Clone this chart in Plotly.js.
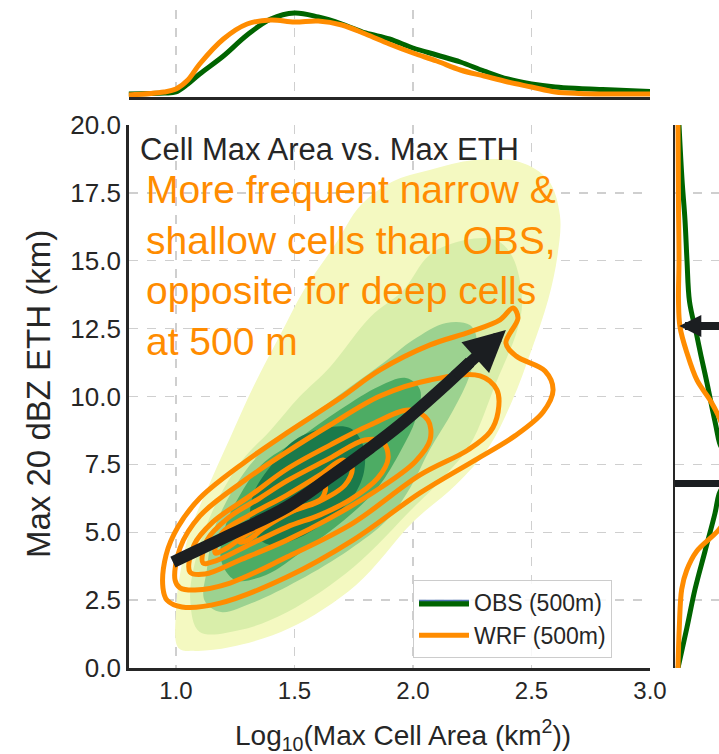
<!DOCTYPE html>
<html><head><meta charset="utf-8">
<script src="https://cdn.plot.ly/plotly-3.0.1.min.js"></script>
<style>html,body{margin:0;padding:0;background:#fff;overflow:hidden}</style>
</head><body><div id="chart" style="width:719px;height:754px"></div>
<script>
// ---------- Axis ticks ----------
const X_TICKS = [1.0, 1.5, 2.0, 2.5, 3.0];
const X_TICK_TEXT = ['1.0', '1.5', '2.0', '2.5', '3.0'];
const Y_TICKS = [0, 2.5, 5, 7.5, 10, 12.5, 15, 17.5, 20];
const Y_TICK_TEXT = ['0.0', '2.5', '5.0', '7.5', '10.0', '12.5', '15.0', '17.5', '20.0'];

// ---------- Top marginal (density of log10 area) ----------
const TOP_X   = [0.8, 0.95, 1.0, 1.05, 1.1, 1.2, 1.3, 1.4, 1.5, 1.6, 1.7, 1.8, 1.9, 2.0, 2.1, 2.2, 2.3, 2.4, 2.5, 2.6, 2.7, 2.8, 2.9, 3.0];
const TOP_OBS = [3, 4, 5, 13, 23, 41, 62, 78, 84, 80, 73, 64, 58, 49, 42, 35, 26, 18, 13, 10, 8.5, 7.5, 6.5, 5.5];
const TOP_WRF = [2, 5, 8, 17, 33, 58, 73, 77, 75, 76, 72, 63, 53, 44, 36, 27, 21, 15, 10, 5, 3.5, 3, 3, 3];

// ---------- Right marginal (density of ETH) ----------
const RIGHT_Y_OBS = [0, 1.5, 2.9, 4.3, 5.7, 6.4, 7.3, 8.3, 8.9, 9.5, 10.5, 11.5, 12.3, 13.5, 15, 16.5, 18, 20];
const RIGHT_OBS   = [3, 12, 20, 30, 40, 44, 55, 44.5, 41, 37.5, 32, 26, 21.5, 14.5, 12, 10, 7, 4];
const RIGHT_Y_WRF = [0, 1.5, 2.9, 3.6, 4.3, 5.1, 5.8, 6.8, 8.0, 9.24, 9.87, 10.6, 11.6, 12.56, 13.55, 15, 17, 20];
const RIGHT_WRF   = [3, 4.3, 6.7, 11.7, 21.7, 44, 55, 60, 55, 44, 35, 22, 12, 5, 3.5, 4, 3.5, 3];

// ---------- OBS filled KDE levels (outer -> inner) ----------
const OBS_L1_X = [1.01, 1.0, 1.02, 1.06, 1.13, 1.23, 1.33, 1.44, 1.54, 1.67, 1.78, 1.91, 2.07, 2.26, 2.45, 2.57, 2.62, 2.61, 2.57, 2.50, 2.42, 2.32, 2.18, 2.0, 1.76, 1.48, 1.23, 1.08];
const OBS_L1_Y = [0.74, 2.14, 3.61, 5.08, 6.56, 8.51, 10.42, 12.27, 13.92, 15.58, 17.05, 17.9, 18.34, 18.71, 18.64, 17.97, 16.68, 15.21, 13.55, 11.71, 9.87, 8.14, 6.74, 5.38, 3.06, 1.47, 0.77, 0.63];
const OBS_L2_X = [1.10, 1.06, 1.09, 1.17, 1.28, 1.40, 1.52, 1.65, 1.82, 1.96, 2.07, 2.22, 2.35, 2.42, 2.46, 2.44, 2.35, 2.24, 2.11, 2.0, 1.75, 1.47, 1.27];
const OBS_L2_Y = [1.33, 2.5, 4.24, 6.08, 7.66, 8.77, 9.98, 11.09, 12.93, 13.92, 15.21, 15.76, 15.76, 15.14, 13.55, 12.45, 10.5, 8.21, 6.85, 5.89, 3.72, 2.06, 1.40];
const OBS_L3_X = [1.12, 1.13, 1.16, 1.24, 1.35, 1.52, 1.69, 1.88, 2.0, 2.14, 2.24, 2.27, 2.24, 2.17, 2.07, 1.99, 1.89, 1.73, 1.52, 1.32, 1.19];
const OBS_L3_Y = [2.50, 3.61, 5.08, 6.56, 7.85, 8.95, 10.06, 11.27, 12.08, 12.71, 12.63, 12.08, 10.79, 9.50, 8.03, 6.67, 5.45, 4.35, 3.24, 2.39, 2.06];
const OBS_L4_X = [1.19, 1.21, 1.27, 1.36, 1.51, 1.69, 1.86, 1.97, 2.03, 2.01, 1.95, 1.85, 1.71, 1.54, 1.38, 1.25];
const OBS_L4_Y = [3.98, 5.27, 6.37, 7.48, 8.40, 9.50, 10.39, 10.68, 10.24, 9.13, 8.03, 6.63, 5.45, 4.35, 3.43, 3.24];
const OBS_L5_X = [1.321, 1.325, 1.41, 1.502, 1.629, 1.734, 1.789, 1.793, 1.743, 1.650, 1.523, 1.397];
const OBS_L5_Y = [5.08, 6.37, 7.55, 8.40, 8.84, 8.84, 8.21, 7.22, 6.26, 5.52, 4.82, 4.53];
const OBS_COLORS = ['#f4f9c1', '#d9eeaa', '#9cd290', '#4dac64', '#1b7a4b'];

// ---------- WRF KDE contour lines (outer -> inner) ----------
const WRF_C1_X = [0.945, 0.958, 1.008, 1.101, 1.291, 1.468, 1.692, 1.861, 2.072, 2.241, 2.367, 2.422, 2.443, 2.392, 2.435, 2.557, 2.591, 2.549, 2.430, 2.262, 2.030, 1.747, 1.468, 1.186, 1.025, 0.962];
const WRF_C1_Y = [2.95, 4.16, 5.19, 6.26, 7.59, 8.66, 9.94, 10.98, 11.90, 12.38, 12.82, 13.26, 12.89, 11.97, 11.49, 10.94, 10.24, 9.43, 8.55, 7.66, 6.45, 4.71, 3.35, 2.39, 2.25, 2.50];
const WRF_C2_X = [0.996, 1.017, 1.101, 1.291, 1.468, 1.650, 1.861, 2.072, 2.283, 2.354, 2.359, 2.325, 2.232, 2.030, 1.747, 1.468, 1.228, 1.080, 1.017];
const WRF_C2_Y = [3.24, 4.42, 5.60, 6.92, 7.96, 8.95, 10.02, 10.61, 10.76, 10.24, 9.43, 8.69, 8.03, 7.11, 5.34, 4.09, 3.13, 2.87, 2.95];
const WRF_C3_X = [1.059, 1.076, 1.156, 1.312, 1.468, 1.650, 1.819, 1.987, 2.063, 2.072, 2.008, 1.861, 1.650, 1.468, 1.270, 1.122];
const WRF_C3_Y = [3.54, 4.53, 5.38, 6.34, 7.33, 8.21, 8.95, 9.50, 9.13, 8.40, 7.59, 6.63, 5.52, 4.71, 3.98, 3.46];
const WRF_C4_X = [1.114, 1.131, 1.219, 1.354, 1.468, 1.650, 1.797, 1.873, 1.895, 1.852, 1.734, 1.608, 1.468, 1.291, 1.165];
const WRF_C4_Y = [3.87, 4.71, 5.52, 6.26, 6.89, 7.73, 8.40, 8.32, 7.73, 7.00, 6.19, 5.64, 5.19, 4.46, 3.94];
const WRF_C5_X = [1.165, 1.194, 1.312, 1.468, 1.608, 1.705, 1.743, 1.713, 1.599, 1.468, 1.312, 1.207];
const WRF_C5_Y = [4.24, 4.97, 5.64, 6.37, 7.11, 7.66, 7.37, 6.74, 6.11, 5.71, 5.01, 4.38];
const WRF_C6_X = [1.270, 1.312, 1.439, 1.565, 1.629, 1.616, 1.502, 1.376, 1.304];
const WRF_C6_Y = [4.64, 5.16, 5.82, 6.45, 6.70, 6.26, 5.82, 5.19, 4.71];

// ---------- Trend arrow (main panel) ----------
const ARROW_X = [0.987, 1.228, 1.468, 1.650, 1.819, 1.945, 2.114, 2.241];
const ARROW_Y = [3.90, 4.90, 5.93, 7.03, 8.10, 8.95, 10.24, 11.27];
const ARROW_TIP = [2.392, 12.45];
const ARROW_HEAD_FROM = [2.17, 10.7];

// ---------- Right-panel markers ----------
const RIGHT_ARROW_Y = 12.6;
const RIGHT_BAR_Y = 6.8;

const ORANGE = '#ff8c00';
const GREEN = '#006400';
const BLACK = '#1b1e21';
const FONT = 'Liberation Sans, Arial, Helvetica, sans-serif';

function close(a) { return a.concat([a[0]]); }

const traces = [];
// Legend entry for OBS
traces.push({x: [null], y: [null], type: 'scatter', mode: 'lines', fill: 'toself',
  fillcolor: GREEN, line: {color: '#4c72b0', width: 1.5}, name: 'OBS (500m)', showlegend: true, hoverinfo: 'skip'});

const obsLevels = [[OBS_L1_X, OBS_L1_Y], [OBS_L2_X, OBS_L2_Y], [OBS_L3_X, OBS_L3_Y], [OBS_L4_X, OBS_L4_Y], [OBS_L5_X, OBS_L5_Y]];
obsLevels.forEach((lv, i) => {
  traces.push({x: close(lv[0]), y: close(lv[1]), type: 'scatter', mode: 'lines', fill: 'toself',
    fillcolor: OBS_COLORS[i], line: {width: 0, shape: 'spline', smoothing: 1}, showlegend: false, hoverinfo: 'skip',
    xaxis: 'x', yaxis: 'y'});
});

const wrfLevels = [[WRF_C1_X, WRF_C1_Y], [WRF_C2_X, WRF_C2_Y], [WRF_C3_X, WRF_C3_Y], [WRF_C4_X, WRF_C4_Y], [WRF_C5_X, WRF_C5_Y], [WRF_C6_X, WRF_C6_Y]];
wrfLevels.forEach((lv, i) => {
  traces.push({x: close(lv[0]), y: close(lv[1]), type: 'scatter', mode: 'lines',
    line: {color: ORANGE, width: 5, shape: 'spline', smoothing: 1}, name: 'WRF (500m)',
    showlegend: i === 0, legendgroup: 'wrf', hoverinfo: 'skip', xaxis: 'x', yaxis: 'y'});
});

// Arrow shaft
traces.push({x: ARROW_X, y: ARROW_Y, type: 'scatter', mode: 'lines',
  line: {color: BLACK, width: 12, shape: 'spline'}, showlegend: false, hoverinfo: 'skip'});

// Top marginal
traces.push({x: TOP_X, y: TOP_OBS, type: 'scatter', mode: 'lines', xaxis: 'x2', yaxis: 'y2',
  line: {color: GREEN, width: 5, shape: 'spline'}, showlegend: false, hoverinfo: 'skip'});
traces.push({x: TOP_X, y: TOP_WRF, type: 'scatter', mode: 'lines', xaxis: 'x2', yaxis: 'y2',
  line: {color: ORANGE, width: 5, shape: 'spline'}, showlegend: false, hoverinfo: 'skip'});

// Right marginal
traces.push({x: RIGHT_OBS, y: RIGHT_Y_OBS, type: 'scatter', mode: 'lines', xaxis: 'x3', yaxis: 'y3',
  line: {color: GREEN, width: 5, shape: 'spline'}, showlegend: false, hoverinfo: 'skip'});
traces.push({x: RIGHT_WRF, y: RIGHT_Y_WRF, type: 'scatter', mode: 'lines', xaxis: 'x3', yaxis: 'y3',
  line: {color: ORANGE, width: 5, shape: 'spline'}, showlegend: false, hoverinfo: 'skip'});

const W = 719, H = 754;
const px = v => v / W;
const py = v => 1 - v / H;

const grid = {showgrid: true, gridcolor: '#cfcfcf', griddash: 'dash', gridwidth: 1.3, zeroline: false};

const layout = {
  width: W, height: H,
  margin: {l: 0, r: 0, t: 0, b: 0},
  paper_bgcolor: '#ffffff', plot_bgcolor: '#ffffff',
  font: {family: FONT, color: '#262626'},
  showlegend: true,
  xaxis: Object.assign({domain: [px(128.6), px(650)], range: [0.8, 3.0], anchor: 'y',
    tickvals: X_TICKS, ticktext: X_TICK_TEXT, tickfont: {size: 24, color: '#262626'},
    showline: true, linecolor: '#262626', linewidth: 2.5, ticks: ''}, grid),
  yaxis: Object.assign({domain: [py(668), py(125)], range: [0, 20], anchor: 'x',
    tickvals: Y_TICKS, ticktext: Y_TICK_TEXT, tickfont: {size: 26, color: '#262626'},
    showline: true, linecolor: '#262626', linewidth: 2.5, ticks: ''}, grid),
  xaxis2: Object.assign({domain: [px(128.6), px(650)], range: [0.8, 3.0], anchor: 'y2',
    tickvals: X_TICKS, showticklabels: false, showline: true, linecolor: '#262626', linewidth: 2.5, ticks: ''}, grid),
  yaxis2: {domain: [py(97), py(10)], range: [0, 87], anchor: 'x2', visible: false, showgrid: false, zeroline: false},
  xaxis3: {domain: [px(675), 1], range: [0, 44], anchor: 'y3', visible: false, showgrid: false, zeroline: false},
  yaxis3: Object.assign({domain: [py(668), py(125)], range: [0, 20], anchor: 'x3',
    tickvals: Y_TICKS, showticklabels: false, showline: true, linecolor: '#262626', linewidth: 2.5, ticks: ''}, grid),
  legend: {x: px(413), y: py(580), xanchor: 'left', yanchor: 'top',
    bgcolor: 'rgba(255,255,255,0.85)', bordercolor: '#cccccc', borderwidth: 1,
    font: {size: 23, color: '#262626', family: FONT}, itemwidth: 50, tracegroupgap: 0},
  shapes: [
    {type: 'line', xref: 'x3', yref: 'y3', x0: 0, x1: 80, y0: RIGHT_BAR_Y, y1: RIGHT_BAR_Y,
     line: {color: BLACK, width: 7}}
  ],
  annotations: [
    {xref: 'paper', yref: 'paper', x: px(138), y: py(150), xanchor: 'left', yanchor: 'middle',
     text: 'Cell Max Area vs. Max ETH', showarrow: false, font: {size: 31, color: '#262626', family: FONT}},
    {xref: 'paper', yref: 'paper', x: px(144), y: py(265), xanchor: 'left', yanchor: 'middle', align: 'left',
     text: 'More frequent narrow &<br>shallow cells than OBS,<br>opposite for deep cells<br>at 500 m',
     showarrow: false, font: {size: 39, color: ORANGE, family: FONT}},
    {xref: 'paper', yref: 'paper', x: px(38), y: py(394), xanchor: 'center', yanchor: 'middle', textangle: -90,
     text: 'Max 20 dBZ ETH (km)', showarrow: false, font: {size: 33, color: '#262626', family: FONT}},
    {xref: 'paper', yref: 'paper', x: px(403), y: py(735), xanchor: 'center', yanchor: 'middle',
     text: 'Log<sub>10</sub>(Max Cell Area (km<sup>2</sup>))', showarrow: false, font: {size: 28, color: '#262626', family: FONT}},
    {xref: 'x', yref: 'y', axref: 'x', ayref: 'y', x: ARROW_TIP[0], y: ARROW_TIP[1],
     ax: ARROW_HEAD_FROM[0], ay: ARROW_HEAD_FROM[1], text: '', showarrow: true,
     arrowhead: 2, arrowwidth: 11, arrowsize: 0.75, arrowcolor: BLACK},
    {xref: 'x3', yref: 'y3', axref: 'x3', ayref: 'y3', x: 4.3, y: RIGHT_ARROW_Y,
     ax: 80, ay: RIGHT_ARROW_Y, text: '', showarrow: true,
     arrowhead: 2, arrowwidth: 8, arrowsize: 0.55, arrowcolor: BLACK}
  ]
};

Plotly.newPlot('chart', traces, layout, {displayModeBar: false, staticPlot: true});
</script></body></html>
